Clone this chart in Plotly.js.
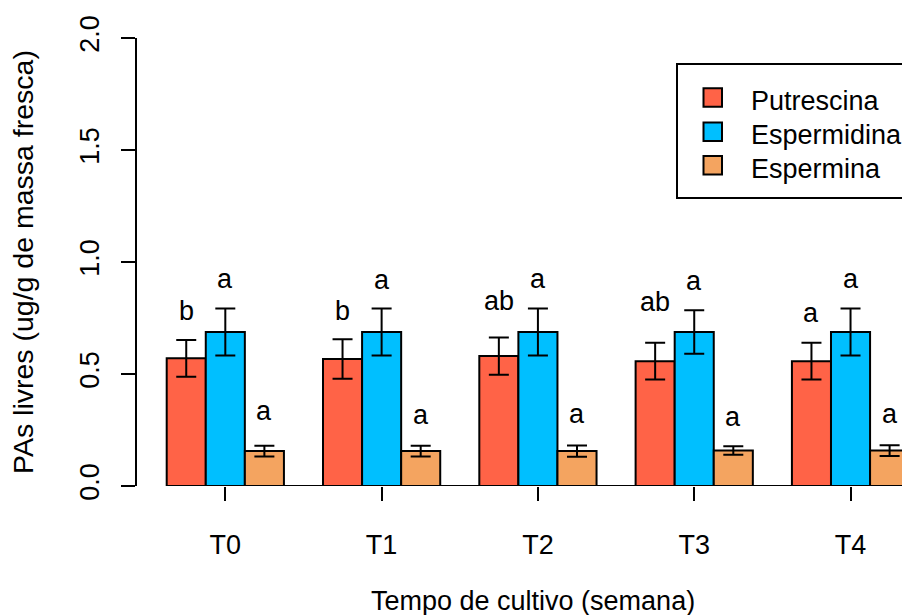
<!DOCTYPE html>
<html>
<head>
<meta charset="utf-8">
<script src="https://cdn.plot.ly/plotly-3.0.1.min.js"></script>
<style>
html, body { margin: 0; padding: 0; overflow: hidden; background: #fff; }
#chart { width: 1000px; height: 615px; }
</style>
</head>
<body>
<div id="chart"></div>
<script>
// ---- data ----
var categories = ["T0", "T1", "T2", "T3", "T4"];
var seriesNames = ["Putrescina", "Espermidina", "Espermina"];
var putrescina = [0.570, 0.567, 0.580, 0.557, 0.557];
var putrescinaSE = [0.082, 0.088, 0.083, 0.082, 0.082];
var espermidina = [0.6875, 0.6875, 0.6875, 0.6875, 0.6875];
var espermidinaSE = [0.105, 0.105, 0.105, 0.097, 0.105];
var espermina = [0.156, 0.156, 0.156, 0.158, 0.158];
var esperminaSE = [0.024, 0.024, 0.025, 0.019, 0.024];
var putLetters = ["b", "b", "ab", "ab", "a"];
var espLetters = ["a", "a", "a", "a", "a"];
var spmLetters = ["a", "a", "a", "a", "a"];
var putLetterY = [0.750, 0.749, 0.793, 0.790, 0.741];
var espLetterY = [0.893, 0.890, 0.893, 0.882, 0.893];
var spmLetterY = [0.304, 0.287, 0.292, 0.277, 0.290];
var colors = ["#FF6347", "#00BFFF", "#F4A460"];
var xTitle = "Tempo de cultivo (semana)";
var yTitle = "PAs livres (ug/g de massa fresca)";

var FONT = "Liberation Sans, Arial, sans-serif";
var FS = 27;

var means = [putrescina, espermidina, espermina];
var ses = [putrescinaSE, espermidinaSE, esperminaSE];
var letters = [putLetters, espLetters, spmLetters];
var letterY = [putLetterY, espLetterY, spmLetterY];

var traces = means.map(function (m, i) {
  return {
    type: "bar",
    name: seriesNames[i],
    x: categories,
    y: m,
    marker: { color: colors[i], line: { color: "#000", width: 2 } },
    error_y: { type: "data", array: ses[i], visible: true, color: "#000", thickness: 2, width: 10 },
    showlegend: false,
    hoverinfo: "skip"
  };
});

var annotations = [];
var offsets = [-0.25, 0, 0.25];
for (var s = 0; s < 3; s++) {
  for (var c = 0; c < categories.length; c++) {
    annotations.push({
      xref: "x", yref: "y", x: c + offsets[s], y: letterY[s][c],
      text: letters[s][c], showarrow: false, xanchor: "center", yanchor: "bottom", yshift: -10,
      font: { family: FONT, size: FS, color: "#000" }
    });
  }
}
// axis titles
var plotL = 137, plotW = 802, plotB = 486, plotH = 448;
function px2x(px) { return (px - plotL) / plotW; }
function py2y(py) { return (plotB - py) / plotH; }
annotations.push({
  xref: "paper", yref: "paper", x: px2x(532.5), y: py2y(601), text: xTitle, showarrow: false,
  xanchor: "center", yanchor: "middle", font: { family: FONT, size: FS, color: "#000" }
});
annotations.push({
  xref: "paper", yref: "paper", x: px2x(23), y: 0.5, text: yTitle, showarrow: false, textangle: -90,
  xanchor: "center", yanchor: "middle", font: { family: FONT, size: 28.5, color: "#000" }
});

// legend (manual)
var shapes = [];
shapes.push({ type: "rect", xref: "paper", yref: "paper", x0: px2x(677), x1: px2x(925), y0: py2y(198), y1: py2y(64),
  line: { color: "#000", width: 2 }, fillcolor: "#fff", layer: "above" });
var legY = [97.5, 131.7, 165.3];
for (var k = 0; k < 3; k++) {
  shapes.push({ type: "rect", xref: "paper", yref: "paper", x0: px2x(703.5), x1: px2x(722), y0: py2y(legY[k] + 9.25), y1: py2y(legY[k] - 9.25),
    line: { color: "#000", width: 2 }, fillcolor: colors[k], layer: "above" });
  annotations.push({
    xref: "paper", yref: "paper", x: px2x(749), y: py2y(legY[k] + 3.5), text: seriesNames[k], showarrow: false,
    xanchor: "left", yanchor: "middle", font: { family: FONT, size: FS, color: "#000" }
  });
}
// x baseline
shapes.push({ type: "line", xref: "x", yref: "y", x0: -0.375, x1: 4.375, y0: 0, y1: 0, line: { color: "#000", width: 2 }, layer: "above" });

var layout = {
  width: 1000, height: 615,
  margin: { l: plotL, r: 1000 - plotL - plotW, t: 38, b: 615 - plotB },
  paper_bgcolor: "#fff", plot_bgcolor: "#fff",
  barmode: "group", bargap: 0.25, bargroupgap: 0,
  font: { family: FONT, size: FS, color: "#000" },
  xaxis: {
    type: "category", range: [-0.565, 4.566], showgrid: false, zeroline: false, showline: false,
    ticks: "outside", ticklen: 14, tickwidth: 2, tickcolor: "#000", ticklabelstandoff: 21,
    tickfont: { family: FONT, size: FS, color: "#000" }
  },
  yaxis: {
    range: [0, 2], showgrid: false, zeroline: false, showline: true, linecolor: "#000", linewidth: 2,
    ticks: "outside", ticklen: 14, tickwidth: 2, tickcolor: "#000", tickvals: [0, 0.5, 1, 1.5, 2],
    ticktext: ["0.0", "0.5", "1.0", "1.5", "2.0"], tickangle: -90, ticklabelstandoff: 11,
    tickfont: { family: FONT, size: FS, color: "#000" }
  },
  annotations: annotations,
  shapes: shapes,
  showlegend: false
};

Plotly.newPlot("chart", traces, layout, { displayModeBar: false, staticPlot: true });
</script>
</body>
</html>
